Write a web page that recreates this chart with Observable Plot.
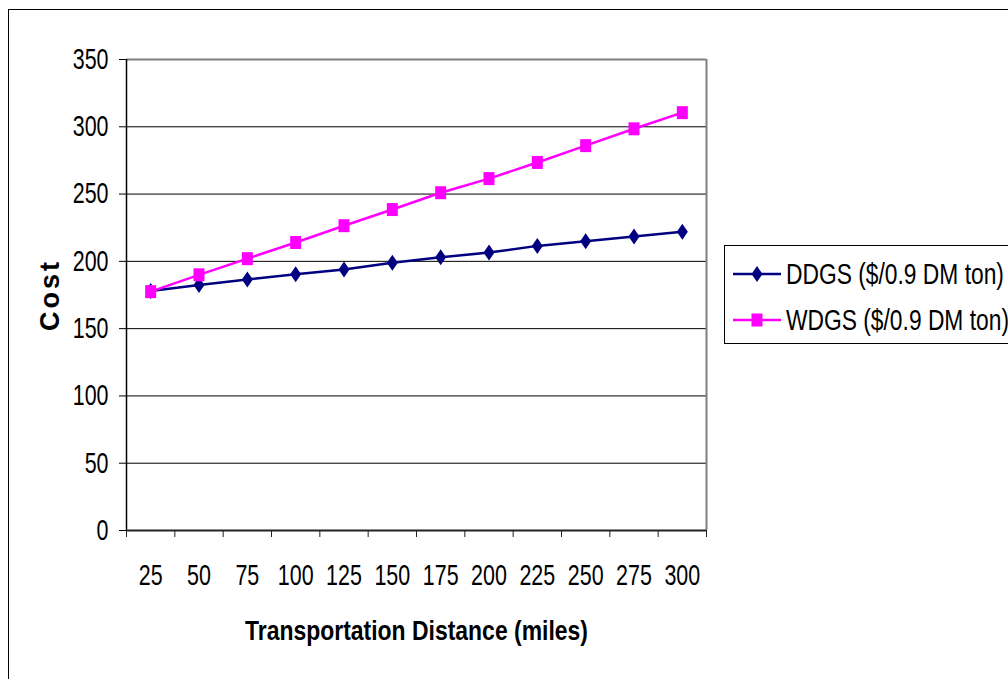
<!DOCTYPE html>
<html><head><meta charset="utf-8">
<script src="https://cdn.jsdelivr.net/npm/d3@7"></script>
<script src="https://cdn.jsdelivr.net/npm/@observablehq/plot@0.6"></script>
<style>
html,body{margin:0;padding:0;background:#fff;}
body{width:1008px;height:679px;overflow:hidden;position:relative;font-family:"Liberation Sans",Arial,sans-serif;}
#frame{position:absolute;left:8px;top:9px;width:1100px;height:800px;border:1.5px solid #000;box-sizing:border-box;}
#chart{position:absolute;left:0;top:0;}
#legend{position:absolute;left:724px;top:245px;width:400px;height:99px;border:1px solid #000;background:#fff;box-sizing:border-box;}
.row{position:absolute;left:0;height:40px;}
.row svg{position:absolute;left:8px;top:0;}
.row span{position:absolute;left:61px;top:3px;font-size:30px;line-height:34px;white-space:nowrap;transform:scaleX(0.76);transform-origin:0 50%;color:#000;}
</style>
</head><body>
<div id="frame"></div>
<div id="chart"></div>
<div id="legend"></div>
<script>
// ---- data ----
const distances = [25, 50, 75, 100, 125, 150, 175, 200, 225, 250, 275, 300];
const ddgsCost  = [178, 182.5, 186.5, 190.5, 194, 199, 203, 206.5, 211.5, 215, 218.5, 222];
const wdgsCost  = [177.5, 190, 202, 214, 226.5, 238.5, 251, 261.5, 273.5, 286, 298.5, 310.5];
const yTicks    = [0, 50, 100, 150, 200, 250, 300, 350];
const seriesNames = ["DDGS ($/0.9 DM ton)", "WDGS ($/0.9 DM ton)"];
const seriesColors = ["#000080", "#FF00FF"];
const xTitle = "Transportation Distance (miles)";
const yTitle = "Cost";

// ---- marker shapes (Excel-like: tall diamond, slightly tall square) ----
const tallDiamond = {draw(ctx) { ctx.moveTo(0, -8); ctx.lineTo(5.5, 0); ctx.lineTo(0, 8); ctx.lineTo(-5.5, 0); ctx.closePath(); }};
const tallSquare  = {draw(ctx) { ctx.moveTo(-5.5, -6.5); ctx.lineTo(5.5, -6.5); ctx.lineTo(5.5, 6.5); ctx.lineTo(-5.5, 6.5); ctx.closePath(); }};

// ---- derived ----
const half = (distances[1] - distances[0]) / 2;
const xLo = distances[0] - half, xHi = distances[distances.length - 1] + half;
const bounds = distances.map(d => d - half).concat([xHi]);
const ddgs = distances.map((d, i) => ({x: d, y: ddgsCost[i]}));
const wdgs = distances.map((d, i) => ({x: d, y: wdgsCost[i]}));
const yMax = yTicks[yTicks.length - 1];
const grid = yTicks.filter(v => v > 0 && v < yMax);

const chart = Plot.plot({
  width: 1008, height: 679,
  marginLeft: 126, marginRight: 302, marginTop: 59, marginBottom: 149,
  style: {fontFamily: '"Liberation Sans", Arial, sans-serif', fontSize: "29px", color: "#000", background: "transparent", overflow: "visible"},
  x: {domain: [xLo, xHi]},
  y: {domain: [0, yMax]},
  marks: [
    Plot.ruleY(grid, {stroke: "#000", strokeWidth: 1}),
    Plot.ruleY([yMax], {stroke: "#808080", strokeWidth: 2}),
    Plot.ruleX([xHi], {stroke: "#808080", strokeWidth: 2}),
    Plot.ruleX([xLo], {stroke: "#000", strokeWidth: 1.5}),
    Plot.ruleY([0], {stroke: "#222", strokeWidth: 2}),
    Plot.axisY({ticks: yTicks, tickSize: 7, tickPadding: 11, label: null, fontSize: 29}),
    Plot.axisX({ticks: bounds, tickSize: 7, tickFormat: () => "", label: null, stroke: "#222"}),
    Plot.axisX({ticks: distances, tickSize: 0, tickPadding: 34, label: null, fontSize: 29}),
    Plot.line(ddgs, {x: "x", y: "y", stroke: seriesColors[0], strokeWidth: 2.5}),
    Plot.dot(ddgs, {x: "x", y: "y", symbol: tallDiamond, fill: seriesColors[0], stroke: "none"}),
    Plot.line(wdgs, {x: "x", y: "y", stroke: seriesColors[1], strokeWidth: 2.5}),
    Plot.dot(wdgs, {x: "x", y: "y", symbol: tallSquare, fill: seriesColors[1], stroke: "none"}),
    Plot.text([yTitle], {frameAnchor: "left", dx: -76, rotate: -90, textAnchor: "middle", lineAnchor: "middle", fontWeight: "bold", fontSize: 27}),
    Plot.text([xTitle], {frameAnchor: "bottom", dy: 101, textAnchor: "middle", lineAnchor: "middle", fontWeight: "bold", fontSize: 27})
  ]
});
document.getElementById("chart").appendChild(chart);

// narrow the text horizontally like the original (condensed look)
function squeeze(texts, s) {
  texts.forEach(t => {
    const bb = t.getBBox();
    const anchor = getComputedStyle(t).textAnchor;
    const ax = anchor === "end" ? bb.x + bb.width : anchor === "middle" ? bb.x + bb.width / 2 : bb.x;
    const tr = t.getAttribute("transform") || "";
    t.setAttribute("transform", `${tr} translate(${ax},0) scale(${s},1) translate(${-ax},0)`);
  });
}
const allText = Array.from(chart.querySelectorAll("text"));
const tickTexts = allText.filter(t => /^\d+$/.test(t.textContent.trim()));
squeeze(tickTexts, 0.74);
squeeze(allText.filter(t => t.textContent === xTitle), 0.85);
allText.filter(t => t.textContent === yTitle).forEach(t => t.setAttribute("letter-spacing", "3px"));

// ---- legend ----
const legend = document.getElementById("legend");
const symbols = [d3.symbol(tallDiamond)(), d3.symbol(tallSquare)()];
seriesNames.forEach((name, i) => {
  const row = document.createElement("div");
  row.className = "row";
  row.style.top = (i === 0 ? 8 : 54) + "px";
  row.innerHTML = `<svg width="52" height="40"><line x1="0" x2="48" y1="20" y2="20" stroke="${seriesColors[i]}" stroke-width="2.5"/><path d="${symbols[i]}" transform="translate(24,20)" fill="${seriesColors[i]}"/></svg><span>${name}</span>`;
  legend.appendChild(row);
});
</script>
</body></html>
